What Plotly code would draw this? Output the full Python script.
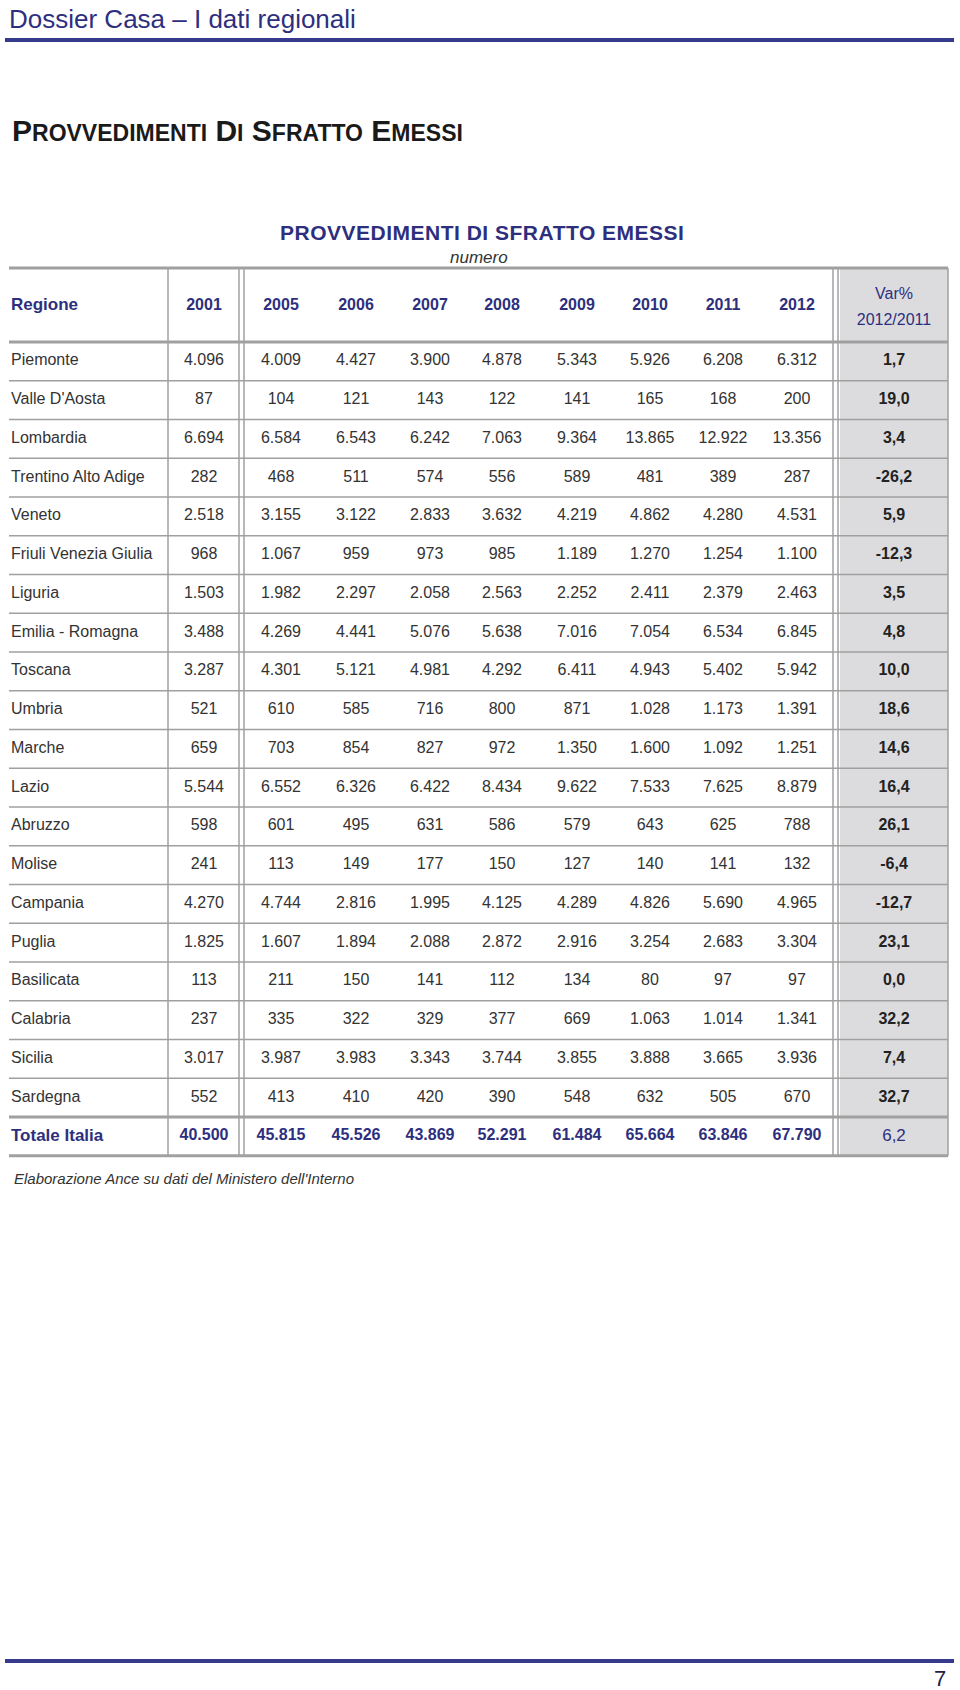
import plotly.graph_objects as go

# ---- data ----
regioni = ["Piemonte", "Valle D'Aosta", "Lombardia", "Trentino Alto Adige", "Veneto",
           "Friuli Venezia Giulia", "Liguria", "Emilia - Romagna", "Toscana", "Umbria",
           "Marche", "Lazio", "Abruzzo", "Molise", "Campania", "Puglia", "Basilicata",
           "Calabria", "Sicilia", "Sardegna"]
anni = ["2001", "2005", "2006", "2007", "2008", "2009", "2010", "2011", "2012"]

v2001 = [4096, 87, 6694, 282, 2518, 968, 1503, 3488, 3287, 521, 659, 5544, 598, 241, 4270, 1825, 113, 237, 3017, 552]
v2005 = [4009, 104, 6584, 468, 3155, 1067, 1982, 4269, 4301, 610, 703, 6552, 601, 113, 4744, 1607, 211, 335, 3987, 413]
v2006 = [4427, 121, 6543, 511, 3122, 959, 2297, 4441, 5121, 585, 854, 6326, 495, 149, 2816, 1894, 150, 322, 3983, 410]
v2007 = [3900, 143, 6242, 574, 2833, 973, 2058, 5076, 4981, 716, 827, 6422, 631, 177, 1995, 2088, 141, 329, 3343, 420]
v2008 = [4878, 122, 7063, 556, 3632, 985, 2563, 5638, 4292, 800, 972, 8434, 586, 150, 4125, 2872, 112, 377, 3744, 390]
v2009 = [5343, 141, 9364, 589, 4219, 1189, 2252, 7016, 6411, 871, 1350, 9622, 579, 127, 4289, 2916, 134, 669, 3855, 548]
v2010 = [5926, 165, 13865, 481, 4862, 1270, 2411, 7054, 4943, 1028, 1600, 7533, 643, 140, 4826, 3254, 80, 1063, 3888, 632]
v2011 = [6208, 168, 12922, 389, 4280, 1254, 2379, 6534, 5402, 1173, 1092, 7625, 625, 141, 5690, 2683, 97, 1014, 3665, 505]
v2012 = [6312, 200, 13356, 287, 4531, 1100, 2463, 6845, 5942, 1391, 1251, 8879, 788, 132, 4965, 3304, 97, 1341, 3936, 670]
var_pct = [1.7, 19.0, 3.4, -26.2, 5.9, -12.3, 3.5, 4.8, 10.0, 18.6, 14.6, 16.4, 26.1, -6.4, -12.7, 23.1, 0.0, 32.2, 7.4, 32.7]

totale_italia = [40500, 45815, 45526, 43869, 52291, 61484, 65664, 63846, 67790]
var_totale = 6.2

colonne = [v2001, v2005, v2006, v2007, v2008, v2009, v2010, v2011, v2012]


def fmt_int(v):
    return f"{v:,}".replace(",", ".")


def fmt_var(v):
    return f"{v:.1f}".replace(".", ",")


# ---- style ----
NAVY = "#2d2f7e"
LINE_BLUE = "#363a8c"
GRID = "#a0a0a0"
TEXT = "#333333"
SANS = "Liberation Sans, Arial, Helvetica, sans-serif"

col_x = [204, 281, 356, 430, 502, 577, 650, 723, 797]
var_x = 894
label_x = 11
y_top, y_head, pitch = 268, 342, 38.75
n = len(regioni)
row_y = [y_head + pitch * (i + 0.5) for i in range(n)]
y_tot_top = y_head + pitch * n
y_tot = y_tot_top + pitch / 2
y_bottom = y_tot_top + pitch
x_left, x_right = 9, 948

fig = go.Figure()

# data rows
fig.add_trace(go.Scatter(x=[label_x] * n, y=row_y, text=regioni, mode="text",
                         textposition="middle right",
                         textfont=dict(family=SANS, size=16, color=TEXT)))
for cx, vals in zip(col_x, colonne):
    fig.add_trace(go.Scatter(x=[cx] * n, y=row_y, text=[fmt_int(v) for v in vals],
                             mode="text", textfont=dict(family=SANS, size=16, color=TEXT)))
fig.add_trace(go.Scatter(x=[var_x] * n, y=row_y, text=[f"<b>{fmt_var(v)}</b>" for v in var_pct],
                         mode="text", textfont=dict(family=SANS, size=16, color="#222222")))

# header row
y_hdr = 306
fig.add_trace(go.Scatter(x=[label_x], y=[y_hdr], text=["<b>Regione</b>"], mode="text",
                         textposition="middle right",
                         textfont=dict(family=SANS, size=17, color=NAVY)))
fig.add_trace(go.Scatter(x=col_x, y=[y_hdr] * len(anni), text=[f"<b>{a}</b>" for a in anni],
                         mode="text", textfont=dict(family=SANS, size=16, color=NAVY)))
fig.add_trace(go.Scatter(x=[var_x, var_x], y=[295, 321], text=["Var%", "2012/2011"],
                         mode="text", textfont=dict(family=SANS, size=16, color=NAVY)))

# total row
fig.add_trace(go.Scatter(x=[label_x], y=[y_tot], text=["<b>Totale Italia</b>"], mode="text",
                         textposition="middle right",
                         textfont=dict(family=SANS, size=17, color=NAVY)))
fig.add_trace(go.Scatter(x=col_x, y=[y_tot] * len(col_x),
                         text=[f"<b>{fmt_int(v)}</b>" for v in totale_italia],
                         mode="text", textfont=dict(family=SANS, size=16, color=NAVY)))
fig.add_trace(go.Scatter(x=[var_x], y=[y_tot], text=[fmt_var(var_totale)],
                         mode="text", textfont=dict(family=SANS, size=17, color=NAVY)))

shapes = []
# grey Var% column
shapes.append(dict(type="rect", x0=840, x1=x_right, y0=y_top, y1=y_bottom,
                   fillcolor="#dcdcdf", line=dict(width=0), layer="below"))
# horizontal rules
for yy in [row_y[i] + pitch / 2 for i in range(n - 1)]:
    shapes.append(dict(type="line", x0=x_left, x1=x_right, y0=yy, y1=yy,
                       line=dict(color=GRID, width=1.5)))
for yy in [y_top, y_head, y_tot_top, y_bottom]:
    shapes.append(dict(type="line", x0=x_left, x1=x_right, y0=yy, y1=yy,
                       line=dict(color=GRID, width=3)))
# vertical rules
for xx in [168, 239, 244, 833, 838, x_right]:
    shapes.append(dict(type="line", x0=xx, x1=xx, y0=y_top, y1=y_bottom,
                       line=dict(color=GRID, width=1.5)))
# page rules
for yy in [40, 1661]:
    shapes.append(dict(type="line", x0=5, x1=954, y0=yy, y1=yy,
                       line=dict(color=LINE_BLUE, width=4)))

small = '<span style="font-size:23px">'
heading = (f"<b>P{small}ROVVEDIMENTI</span> D{small}I</span> "
           f"S{small}FRATTO</span> E{small}MESSI</span></b>")

annotations = [
    dict(x=7, y=19, text="Dossier Casa – I dati regionali", showarrow=False,
         xanchor="left", yanchor="middle", font=dict(family=SANS, size=26, color=NAVY)),
    dict(x=10, y=130, text=heading, showarrow=False, xanchor="left", yanchor="middle",
         font=dict(family=SANS, size=30, color="#1a1a1a")),
    dict(x=482, y=232,
         text='<b><span style="letter-spacing:0.5px">PROVVEDIMENTI DI SFRATTO EMESSI</span></b>',
         showarrow=False, xanchor="center", yanchor="middle",
         font=dict(family=SANS, size=21, color=NAVY)),
    dict(x=479, y=257, text="<i>numero</i>", showarrow=False, xanchor="center",
         yanchor="middle", font=dict(family=SANS, size=17, color=TEXT)),
    dict(x=12, y=1178, text="<i>Elaborazione Ance su dati del Ministero dell'Interno</i>",
         showarrow=False, xanchor="left", yanchor="middle",
         font=dict(family=SANS, size=15, color=TEXT)),
    dict(x=948, y=1678, text="7", showarrow=False, xanchor="right", yanchor="middle",
         font=dict(family=SANS, size=22, color="#222244")),
]

fig.update_layout(
    width=960, height=1690,
    margin=dict(l=0, r=0, t=0, b=0),
    paper_bgcolor="white", plot_bgcolor="white",
    showlegend=False,
    xaxis=dict(range=[0, 960], visible=False, fixedrange=True),
    yaxis=dict(range=[1690, 0], visible=False, fixedrange=True),
    shapes=shapes,
    annotations=annotations,
)

fig.write_html("out.html", config={"displayModeBar": False},
               post_script="document.body.style.margin='0';document.body.style.overflow='hidden';")
